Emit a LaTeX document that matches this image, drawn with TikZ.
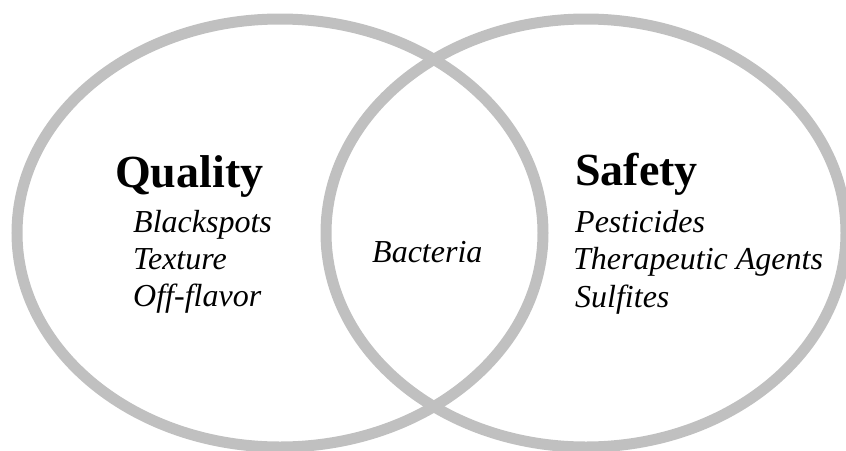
\documentclass[tikz,border=0pt]{standalone}
\usepackage{fontspec}
\setmainfont{Liberation Serif}
\definecolor{ringgray}{HTML}{C0C0C0}
\begin{document}
\begin{tikzpicture}[x=1pt,y=-1pt,
  ring/.style={draw=ringgray,line width=11pt},
  head/.style={anchor=base west,inner sep=0pt,font=\fontsize{46}{50}\selectfont\bfseries},
  item/.style={anchor=base west,inner sep=0pt,font=\fontsize{32}{36}\selectfont\itshape}]
\useasboundingbox (0,0) rectangle (846,450);
\draw[ring] (280,233) ellipse [x radius=263pt, y radius=214pt];
\draw[ring] (586,233) ellipse [x radius=260pt, y radius=214pt];
\node[head] (quality) at (115,187) {Quality};
\node[item] (blackspots) at (133,232) {Blackspots};
\node[item] (texture) at (133,269) {Texture};
\node[item] (offflavor) at (133,306) {Off-flavor};
\node[item] (bacteria) at (372,262) {Bacteria};
\node[head] (safety) at (575,185) {Safety};
\node[item] (pesticides) at (575,232) {Pesticides};
\node[item] (therapeutic) at (573,269) {Therapeutic Agents};
\node[item] (sulfites) at (575,307) {Sulfites};
\end{tikzpicture}
\end{document}
